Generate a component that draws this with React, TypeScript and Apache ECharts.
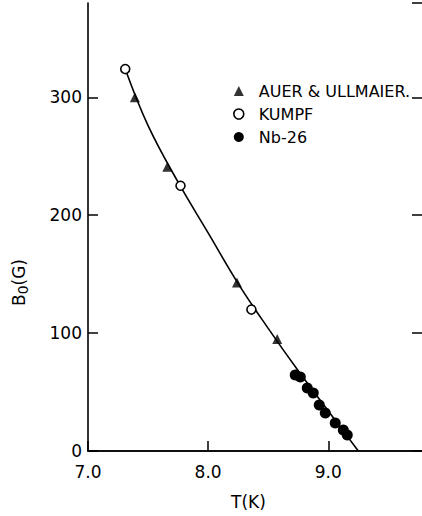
import React, { useEffect, useRef } from "react";
import * as echarts from "echarts";

const curveT = [7.31, 7.5, 7.75, 8.0, 8.25, 8.5, 8.75, 9.0, 9.25];
const curveB = [324, 276, 228, 185, 142, 104, 68, 34, 0];

const auerT = [7.39, 7.66, 8.24, 8.575];
const auerB = [300, 241, 143, 95];

const kumpfT = [7.31, 7.77, 8.36];
const kumpfB = [324, 225, 120];

const nbT = [8.725, 8.767, 8.825, 8.875, 8.925, 8.975, 9.058, 9.125, 9.158];
const nbB = [64.4, 62.7, 53.4, 49.2, 39.0, 32.2, 23.7, 17.8, 13.6];

const xTicks = [7.0, 8.0, 9.0];
const yTicks = [0, 100, 200, 300];
const xMax = 9.88;

const zip = (a: number[], b: number[]) => a.map((v, i) => [v, b[i]]);

const FONT = "DejaVu Sans";
const INK = "#000";

export default function App() {
  const ref = useRef<HTMLDivElement>(null);
  useEffect(() => {
    if (!ref.current) return;
    const chart = echarts.init(ref.current, undefined, { renderer: "svg", width: 440, height: 516 });
    const axisLine = { show: true, lineStyle: { color: INK, width: 1.6 } };
    chart.setOption({
      animation: false,
      backgroundColor: "#fff",
      grid: { left: 88, right: 6, top: 3, bottom: 65, containLabel: false, outerBoundsMode: "none" },
      legend: {
        orient: "vertical",
        left: 233,
        top: 83,
        padding: 0,
        itemWidth: 10,
        itemHeight: 10,
        itemGap: 7,
        textStyle: { fontFamily: FONT, fontSize: 16, color: INK, lineHeight: 16, padding: [0, 0, 0, 10] },
        data: [
          { name: "AUER & ULLMAIER.", icon: "triangle", itemStyle: { color: INK } },
          { name: "KUMPF", icon: "circle", itemStyle: { color: "#fff", borderColor: INK, borderWidth: 1.6 } },
          { name: "Nb-26", icon: "circle", itemStyle: { color: INK } },
        ],
      },
      xAxis: [
        {
          type: "value",
          min: 7,
          max: xMax,
          interval: 1,
          axisLine,
          axisTick: { show: true, inside: true, length: 10, lineStyle: { color: INK, width: 1.5 } },
          axisLabel: {
            show: true,
            margin: 12,
            fontFamily: FONT,
            fontSize: 17,
            color: INK,
            showMaxLabel: false,
            formatter: (v: number) => (xTicks.includes(v) ? v.toFixed(1) : ""),
          },
          splitLine: { show: false },
        },
        {
          type: "value",
          position: "top",
          min: 7,
          max: xMax,
          interval: 1,
          axisLine,
          axisTick: { show: false },
          axisLabel: { show: false },
          splitLine: { show: false },
        },
      ],
      yAxis: [
        {
          type: "value",
          min: 0,
          max: 380,
          interval: 100,
          axisLine,
          axisTick: { show: true, inside: true, length: 10, lineStyle: { color: INK, width: 1.5 } },
          axisLabel: {
            show: true,
            margin: 6,
            fontFamily: FONT,
            fontSize: 17,
            color: INK,
            showMaxLabel: false,
            formatter: (v: number) => (yTicks.includes(v) ? String(v) : ""),
          },
          splitLine: { show: false },
        },
        {
          type: "value",
          position: "right",
          min: 0,
          max: 380,
          interval: 100,
          axisLine: { show: false },
          axisTick: { show: true, inside: true, length: 22, lineStyle: { color: INK, width: 1.5 } },
          axisLabel: { show: false },
          splitLine: { show: false },
        },
      ],
      graphic: [
        {
          type: "text",
          left: 231,
          top: 493,
          style: { text: "T(K)", font: `17px '${FONT}'`, fill: INK },
        },
        {
          type: "text",
          x: 8,
          y: 306,
          rotation: Math.PI / 2,
          style: {
            text: "B{s|0}(G)",
            font: `17px '${FONT}'`,
            fill: INK,
            rich: { s: { fontSize: 14, fontFamily: FONT, padding: [8, 0, 0, 0], fill: INK } },
          },
        },
      ],
      series: [
        {
          name: "curve",
          type: "line",
          data: zip(curveT, curveB),
          smooth: 0.4,
          showSymbol: false,
          symbol: "none",
          lineStyle: { color: INK, width: 1.6 },
          z: 1,
        },
        {
          name: "AUER & ULLMAIER.",
          type: "scatter",
          symbol: "triangle",
          symbolSize: 10,
          itemStyle: { color: INK },
          data: zip(auerT, auerB),
          z: 3,
        },
        {
          name: "KUMPF",
          type: "scatter",
          symbol: "circle",
          symbolSize: 9,
          itemStyle: { color: "#fff", borderColor: INK, borderWidth: 1.6, opacity: 1 },
          data: zip(kumpfT, kumpfB),
          z: 3,
        },
        {
          name: "Nb-26",
          type: "scatter",
          symbol: "circle",
          symbolSize: 11,
          itemStyle: { color: INK, opacity: 1 },
          data: zip(nbT, nbB),
          z: 3,
        },
      ],
    });
    return () => chart.dispose();
  }, []);
  return (
    <div style={{ position: "absolute", left: 0, top: 0, width: 422, height: 516, overflow: "hidden" }}>
      <div ref={ref} style={{ width: 440, height: 516 }} />
    </div>
  );
}
